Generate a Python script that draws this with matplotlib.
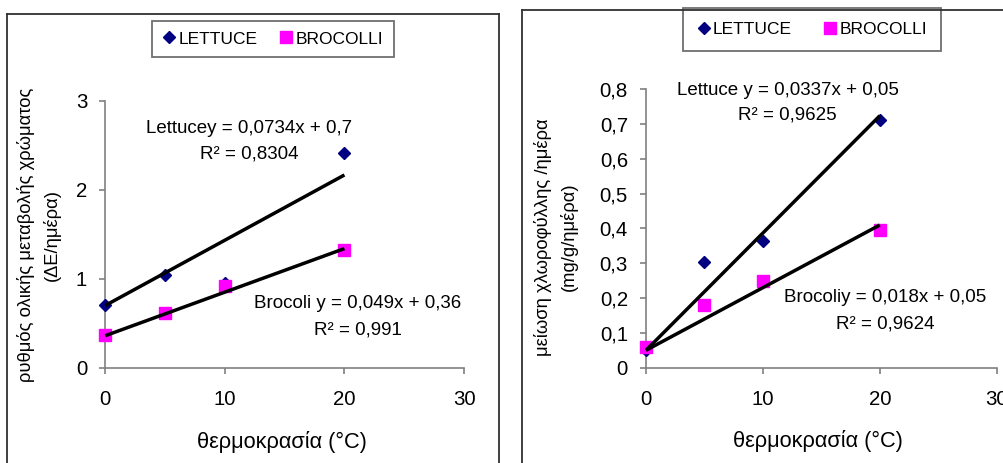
import matplotlib
matplotlib.use("Agg")
import matplotlib.pyplot as plt
from matplotlib.lines import Line2D
import numpy as np

plt.rcParams['font.family'] = ['Liberation Sans', 'DejaVu Sans']

# ---------------- data ----------------
temps = [0, 5, 10, 20]

# left panel: total colour change rate (ΔΕ/day)
color_lettuce = [0.70, 1.04, 0.95, 2.41]
color_broccoli = [0.37, 0.62, 0.92, 1.32]
color_fit_lettuce = (0.0734, 0.7)      # slope, intercept
color_fit_broccoli = (0.049, 0.36)
color_eq_lettuce = ["Lettucey = 0,0734x + 0,7", "R\u00b2 = 0,8304"]
color_eq_broccoli = ["Brocoli y = 0,049x + 0,36", "R\u00b2 = 0,991"]

# right panel: chlorophyll decrease (mg/g/day)
chl_lettuce = [0.05, 0.305, 0.363, 0.712]
chl_broccoli = [0.06, 0.181, 0.25, 0.395]
chl_fit_lettuce = (0.0337, 0.05)
chl_fit_broccoli = (0.018, 0.05)
chl_eq_lettuce = ["Lettuce y = 0,0337x + 0,05", "R\u00b2 = 0,9625"]
chl_eq_broccoli = ["Brocoliy = 0,018x + 0,05", "R\u00b2 = 0,9624"]

series_names = ["LETTUCE", "BROCOLLI"]
x_ticks = [0, 10, 20, 30]
left_yticks = [0, 1, 2, 3]
right_yticks = [0, 0.1, 0.2, 0.3, 0.4, 0.5, 0.6, 0.7, 0.8]

xlabel = "θερμοκρασία (°C)"
left_ylabel = ["ρυθμός ολικής μεταβολής χρώματος", "(ΔΕ/ημέρα)"]
right_ylabel = ["μείωση χλωροφύλλης /ημέρα", "(mg/g/ημέρα)"]

# ---------------- style ----------------
W, H = 1004, 463
fig = plt.figure(figsize=(W / 100, H / 100), dpi=100)

NAVY = "#000080"
MAGENTA = "#FF00FF"
AXCOL = "#808080"
FRAMECOL = "#303030"


def px(x, y):
    return x / W, 1 - y / H


def fmt(v):
    s = ("%g" % v).replace(".", ",")
    return s


def panel(rect, ylim, yticks, lettuce, broccoli, fit_l, fit_b, eq_l, eq_b,
          eq_l_pos, eq_b_pos, ylab, ylab_px, xlab_px, leg_center, leg_pad, leg_colsp):
    ax = fig.add_axes(rect)
    ax.set_xlim(0, 30)
    ax.set_ylim(*ylim)
    for s in ("top", "right"):
        ax.spines[s].set_visible(False)
    for s in ("left", "bottom"):
        ax.spines[s].set_color(AXCOL)
        ax.spines[s].set_linewidth(1.2)
    ax.set_xticks(x_ticks)
    ax.set_yticks(yticks)
    ax.set_xticklabels([fmt(v) for v in x_ticks])
    ax.set_yticklabels([fmt(v) for v in yticks])
    ax.tick_params(axis="both", direction="out", length=4, width=1.2, color=AXCOL,
                   labelsize=14.7, labelcolor="black")
    ax.tick_params(axis="y", pad=9)
    ax.tick_params(axis="x", pad=12)

    h1, = ax.plot(temps, lettuce, linestyle="none", marker="D", ms=6.6,
                  color=NAVY, mec=NAVY, zorder=3, clip_on=False)
    h2, = ax.plot(temps, broccoli, linestyle="none", marker="s", ms=8.4,
                  color=MAGENTA, mec=MAGENTA, zorder=4, clip_on=False)
    xs = np.array([min(temps), max(temps)])
    for (m, b) in (fit_l, fit_b):
        ax.plot(xs, m * xs + b, color="black", lw=2.5, zorder=5,
                solid_capstyle="butt", clip_on=False)

    for (lines, (cx, y1, y2)) in ((eq_l, eq_l_pos), (eq_b, eq_b_pos)):
        ax.text(cx, y1, lines[0], ha="center", va="baseline", fontsize=13.5, zorder=6)
        ax.text(cx, y2, lines[1], ha="center", va="baseline", fontsize=13.5, zorder=6)

    # y label (two lines)
    (x1, x2, yc) = ylab_px
    fig.text(*px(x1, yc), ylab[0], rotation=90, ha="center", va="center", fontsize=13.2)
    fig.text(*px(x2, yc), ylab[1], rotation=90, ha="center", va="center", fontsize=13.2)
    fig.text(*px(*xlab_px), xlabel, ha="center", va="center", fontsize=15.7)

    leg = ax.legend([h1, h2], series_names, ncol=2, loc="center",
                    bbox_to_anchor=px(*leg_center), bbox_transform=fig.transFigure,
                    fontsize=12.5, frameon=True, fancybox=False, shadow=False,
                    handlelength=0.8, handletextpad=0.15, columnspacing=leg_colsp,
                    borderpad=leg_pad, borderaxespad=0, markerscale=1.0)
    fr = leg.get_frame()
    fr.set_edgecolor("#707070")
    fr.set_linewidth(1.3)
    fr.set_alpha(None)
    fr.set_facecolor("white")
    return ax


# left axes: x 105.3..464, y 101..367.7
panel([105.3 / W, 1 - 367.7 / H, (464 - 105.3) / W, (367.7 - 101) / H],
      (0, 3), left_yticks, color_lettuce, color_broccoli,
      color_fit_lettuce, color_fit_broccoli, color_eq_lettuce, color_eq_broccoli,
      (12.06, 2.643, 2.348), (21.1, 0.668, 0.376),
      left_ylabel, (26.5, 51.5, 235), (281.7, 441.7), (273, 39), 0.6, 1.25)

# right axes: x 646..996.7, y 89.3..367.7
panel([646 / W, 1 - 367.7 / H, (996.7 - 646) / W, (367.7 - 89.3) / H],
      (0, 0.8), right_yticks, chl_lettuce, chl_broccoli,
      chl_fit_lettuce, chl_fit_broccoli, chl_eq_lettuce, chl_eq_broccoli,
      (12.12, 0.784, 0.712), (20.43, 0.188, 0.113),
      right_ylabel, (543, 569, 237), (817.8, 441), (812, 29.5), 0.8, 1.8)

# outer chart frames
def seg(xa, ya, xb, yb):
    fig.add_artist(Line2D([xa / W, xb / W], [1 - ya / H, 1 - yb / H],
                          transform=fig.transFigure, color=FRAMECOL, lw=1.3))

seg(7.5, 13.5, 499.5, 13.5)
seg(7.5, 13.5, 7.5, 470)
seg(499.5, 13.5, 499.5, 470)
seg(521.7, 9.5, 1010, 9.5)
seg(521.7, 9.5, 521.7, 470)

fig.savefig("out.png", dpi=100, facecolor="white")
